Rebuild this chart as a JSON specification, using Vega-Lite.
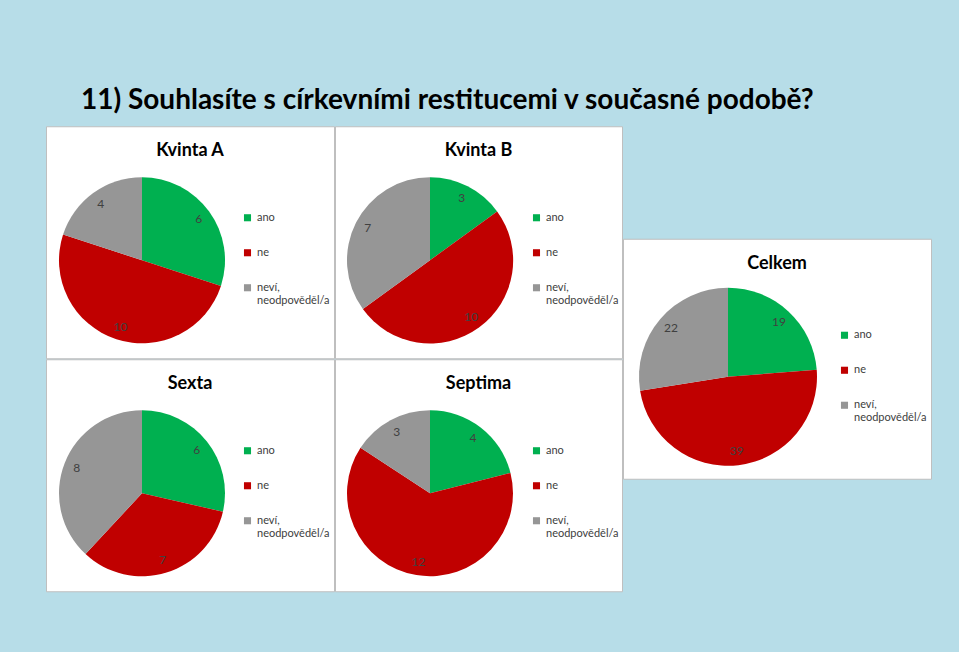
{
  "$schema": "https://vega.github.io/schema/vega-lite/v6.json",
  "padding": {"left": 45, "top": 86, "right": 31, "bottom": 61},
  "title": {"text": "11) Souhlasíte s církevními restitucemi v současné podobě?", "anchor": "start", "dx": 35, "fontSize": 28, "fontWeight": "bold", "font": "Lato", "color": "#000000", "baseline": "alphabetic", "offset": -11},
  "data": {"values": [
    {"panel": "Kvinta A", "category": "ano", "value": 6, "order": 1},
    {"panel": "Kvinta A", "category": "ne", "value": 10, "order": 2},
    {"panel": "Kvinta A", "category": "neví, neodpověděl/a", "value": 4, "order": 3},
    {"panel": "Kvinta B", "category": "ano", "value": 3, "order": 1},
    {"panel": "Kvinta B", "category": "ne", "value": 10, "order": 2},
    {"panel": "Kvinta B", "category": "neví, neodpověděl/a", "value": 7, "order": 3},
    {"panel": "Sexta", "category": "ano", "value": 6, "order": 1},
    {"panel": "Sexta", "category": "ne", "value": 7, "order": 2},
    {"panel": "Sexta", "category": "neví, neodpověděl/a", "value": 8, "order": 3},
    {"panel": "Septima", "category": "ano", "value": 4, "order": 1},
    {"panel": "Septima", "category": "ne", "value": 12, "order": 2},
    {"panel": "Septima", "category": "neví, neodpověděl/a", "value": 3, "order": 3},
    {"panel": "Celkem", "category": "ano", "value": 19, "order": 1},
    {"panel": "Celkem", "category": "ne", "value": 39, "order": 2},
    {"panel": "Celkem", "category": "neví, neodpověděl/a", "value": 22, "order": 3}
  ]},
  "spacing": -3,
  "center": true,
  "resolve": {"scale": {"color": "independent", "theta": "independent"}, "legend": {"color": "independent"}},
  "hconcat": [
    {
      "spacing": -3,
      "resolve": {"scale": {"color": "independent", "theta": "independent"}, "legend": {"color": "independent"}},
      "vconcat": [
        {
          "spacing": -3,
          "resolve": {"scale": {"color": "independent", "theta": "independent"}, "legend": {"color": "independent"}},
          "hconcat": [
            {
              "width": 288, "height": 232,
              "view": {"fill": "#ffffff", "stroke": "#bfbfbf", "strokeWidth": 1},
              "title": {"text": "Kvinta A"},
              "transform": [{"filter": "datum.panel === 'Kvinta A'"}],
              "encoding": {
                "theta": {"field": "value", "type": "quantitative", "stack": true},
                "order": {"field": "order", "type": "quantitative"},
                "color": {"field": "category", "type": "nominal", "scale": {"domain": ["ano", "ne", "neví, neodpověděl/a"], "range": ["#00b050", "#c00000", "#969696"]}, "legend": {"orient": "none", "legendX": 196, "legendY": 86, "labelExpr": "datum.label == 'neví, neodpověděl/a' ? ['neví,', 'neodpověděl/a'] : datum.label"}}
              },
              "layer": [
                {"mark": {"type": "arc", "outerRadius": 83, "x": 96, "y": 134}},
                {"mark": {"type": "text", "radius": 70, "x": 96, "y": 134, "fontSize": 12, "font": "Lato"},
                 "encoding": {"text": {"field": "value", "type": "quantitative"}, "color": {"value": "#404040"}, "detail": {"field": "category", "type": "nominal"}}}
              ]
            },
            {
              "width": 287, "height": 232,
              "view": {"fill": "#ffffff", "stroke": "#bfbfbf", "strokeWidth": 1},
              "title": {"text": "Kvinta B"},
              "transform": [{"filter": "datum.panel === 'Kvinta B'"}],
              "encoding": {
                "theta": {"field": "value", "type": "quantitative", "stack": true},
                "order": {"field": "order", "type": "quantitative"},
                "color": {"field": "category", "type": "nominal", "scale": {"domain": ["ano", "ne", "neví, neodpověděl/a"], "range": ["#00b050", "#c00000", "#969696"]}, "legend": {"orient": "none", "legendX": 196, "legendY": 86, "labelExpr": "datum.label == 'neví, neodpověděl/a' ? ['neví,', 'neodpověděl/a'] : datum.label"}}
              },
              "layer": [
                {"mark": {"type": "arc", "outerRadius": 83, "x": 95, "y": 134}},
                {"mark": {"type": "text", "radius": 70, "x": 95, "y": 134, "fontSize": 12, "font": "Lato"},
                 "encoding": {"text": {"field": "value", "type": "quantitative"}, "color": {"value": "#404040"}, "detail": {"field": "category", "type": "nominal"}}}
              ]
            }
          ]
        },
        {
          "spacing": -3,
          "resolve": {"scale": {"color": "independent", "theta": "independent"}, "legend": {"color": "independent"}},
          "hconcat": [
            {
              "width": 288, "height": 232,
              "view": {"fill": "#ffffff", "stroke": "#bfbfbf", "strokeWidth": 1},
              "title": {"text": "Sexta"},
              "transform": [{"filter": "datum.panel === 'Sexta'"}],
              "encoding": {
                "theta": {"field": "value", "type": "quantitative", "stack": true},
                "order": {"field": "order", "type": "quantitative"},
                "color": {"field": "category", "type": "nominal", "scale": {"domain": ["ano", "ne", "neví, neodpověděl/a"], "range": ["#00b050", "#c00000", "#969696"]}, "legend": {"orient": "none", "legendX": 196, "legendY": 86, "labelExpr": "datum.label == 'neví, neodpověděl/a' ? ['neví,', 'neodpověděl/a'] : datum.label"}}
              },
              "layer": [
                {"mark": {"type": "arc", "outerRadius": 83, "x": 96, "y": 134}},
                {"mark": {"type": "text", "radius": 70, "x": 96, "y": 134, "fontSize": 12, "font": "Lato"},
                 "encoding": {"text": {"field": "value", "type": "quantitative"}, "color": {"value": "#404040"}, "detail": {"field": "category", "type": "nominal"}}}
              ]
            },
            {
              "width": 287, "height": 232,
              "view": {"fill": "#ffffff", "stroke": "#bfbfbf", "strokeWidth": 1},
              "title": {"text": "Septima"},
              "transform": [{"filter": "datum.panel === 'Septima'"}],
              "encoding": {
                "theta": {"field": "value", "type": "quantitative", "stack": true},
                "order": {"field": "order", "type": "quantitative"},
                "color": {"field": "category", "type": "nominal", "scale": {"domain": ["ano", "ne", "neví, neodpověděl/a"], "range": ["#00b050", "#c00000", "#969696"]}, "legend": {"orient": "none", "legendX": 196, "legendY": 86, "labelExpr": "datum.label == 'neví, neodpověděl/a' ? ['neví,', 'neodpověděl/a'] : datum.label"}}
              },
              "layer": [
                {"mark": {"type": "arc", "outerRadius": 83, "x": 95, "y": 134}},
                {"mark": {"type": "text", "radius": 70, "x": 95, "y": 134, "fontSize": 12, "font": "Lato"},
                 "encoding": {"text": {"field": "value", "type": "quantitative"}, "color": {"value": "#404040"}, "detail": {"field": "category", "type": "nominal"}}}
              ]
            }
          ]
        }
      ]
    },
    {
      "width": 308, "height": 240,
      "view": {"fill": "#ffffff", "stroke": "#bfbfbf", "strokeWidth": 1},
      "title": {"text": "Celkem"},
      "transform": [{"filter": "datum.panel === 'Celkem'"}],
      "encoding": {
        "theta": {"field": "value", "type": "quantitative", "stack": true},
        "order": {"field": "order", "type": "quantitative"},
        "color": {"field": "category", "type": "nominal", "scale": {"domain": ["ano", "ne", "neví, neodpověděl/a"], "range": ["#00b050", "#c00000", "#969696"]}, "legend": {"orient": "none", "legendX": 216, "legendY": 91, "labelExpr": "datum.label == 'neví, neodpověděl/a' ? ['neví,', 'neodpověděl/a'] : datum.label"}}
      },
      "layer": [
        {"mark": {"type": "arc", "outerRadius": 89, "x": 105, "y": 138}},
        {"mark": {"type": "text", "radius": 75, "x": 105, "y": 138, "fontSize": 12, "font": "Lato"},
         "encoding": {"text": {"field": "value", "type": "quantitative"}, "color": {"value": "#404040"}, "detail": {"field": "category", "type": "nominal"}}}
      ]
    }
  ],
  "config": {
    "background": "#b7dde8",
    "font": "Lato",
    "view": {"fill": "#ffffff", "stroke": "#bfbfbf", "strokeWidth": 1},
    "title": {"fontSize": 18, "fontWeight": "bold", "font": "Lato", "color": "#000000", "anchor": "middle", "frame": "group", "baseline": "alphabetic", "offset": -34},
    "legend": {
      "title": null,
      "padding": 0,
      "symbolType": "square",
      "symbolSize": 50,
      "symbolStrokeWidth": 0,
      "labelFont": "Lato",
      "labelFontSize": 11,
      "labelColor": "#404040",
      "labelOffset": 4,
      "rowPadding": 23,
      "labelLimit": 200
    }
  }
}
